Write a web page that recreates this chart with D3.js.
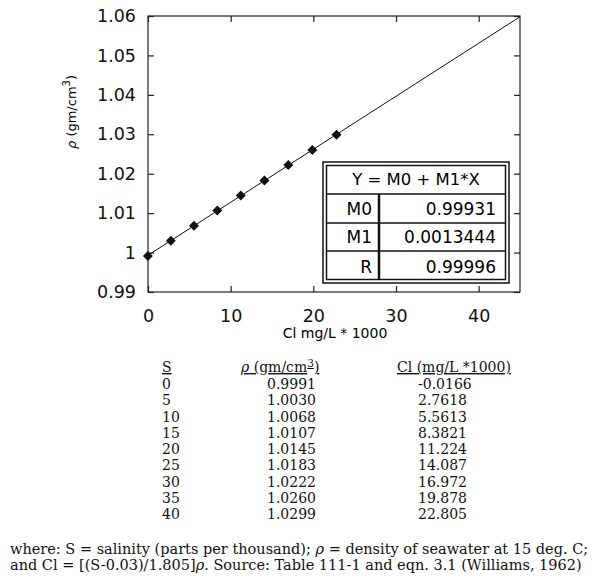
<!DOCTYPE html>
<html>
<head>
<meta charset="utf-8">
<script src="https://cdn.jsdelivr.net/npm/d3@7"></script>
<style>
  body { margin: 0; background: #fff; }
  svg { display: block; }
  .tick-label { font-family: "DejaVu Sans", sans-serif; font-size: 17.5px; fill: #111; }
  .serif { font-family: "DejaVu Serif", serif; fill: #111; }
</style>
</head>
<body>
<svg></svg>
<script>
const width = 600;
const height = 585;
const svg = d3.select("svg").attr("width", width).attr("height", height);

// table values (Williams, 1962)
const salinity = [0, 5, 10, 15, 20, 25, 30, 35, 40];
const density = ["0.9991", "1.0030", "1.0068", "1.0107", "1.0145", "1.0183", "1.0222", "1.0260", "1.0299"];
const chlorinity = ["-0.0166", "2.7618", "5.5613", "8.3821", "11.224", "14.087", "16.972", "19.878", "22.805"];

// regression fit shown in the box
const fitLabels = ["M0", "M1", "R"];
const fitValues = ["0.99931", "0.0013444", "0.99996"];
const m0 = 0.99931, m1 = 0.0013444;

const xTicks = [0, 10, 20, 30, 40];
const yTicks = [0.99, 1, 1.01, 1.02, 1.03, 1.04, 1.05, 1.06];

const x = d3.scaleLinear().domain([0, 45]).range([148, 520]);
const y = d3.scaleLinear().domain([0.99, 1.06]).range([292, 16]);

const plot = svg.append("g");

// frame
plot.append("rect")
    .attr("x", x(0)).attr("y", y(1.06))
    .attr("width", x(45) - x(0)).attr("height", y(0.99) - y(1.06))
    .attr("fill", "none").attr("stroke", "#222").attr("stroke-width", 1.2);

// axes with inward ticks on all four sides
const tickFmt = d => d === 1 ? "1" : d3.format(".2f")(d);
plot.append("g").attr("transform", `translate(0,${y(0.99)})`)
    .call(d3.axisBottom(x).tickValues(xTicks).tickSize(-6).tickPadding(18).tickFormat(d3.format("d")))
    .call(g => g.select(".domain").remove());
plot.append("g").attr("transform", `translate(0,${y(1.06)})`)
    .call(d3.axisTop(x).tickValues(xTicks).tickSize(-6).tickFormat(""))
    .call(g => g.select(".domain").remove());
plot.append("g").attr("transform", `translate(${x(0)},0)`)
    .call(d3.axisLeft(y).tickValues(yTicks).tickSize(-6).tickPadding(12).tickFormat(tickFmt))
    .call(g => g.select(".domain").remove());
plot.append("g").attr("transform", `translate(${x(45)},0)`)
    .call(d3.axisRight(y).tickValues(yTicks).tickSize(-6).tickFormat(""))
    .call(g => g.select(".domain").remove());

plot.selectAll(".tick line").attr("stroke", "#222").attr("stroke-width", 1.2);
plot.selectAll(".tick text").attr("class", "tick-label");

// axis titles
plot.append("text")
    .attr("x", 335).attr("y", 338)
    .attr("text-anchor", "middle")
    .style("font-family", "DejaVu Sans, sans-serif").style("font-size", "14px")
    .text("Cl mg/L * 1000");

const yTitle = plot.append("text")
    .attr("transform", "translate(76,112) rotate(-90)")
    .attr("text-anchor", "middle")
    .style("font-family", "DejaVu Sans, sans-serif").style("font-size", "13px");
yTitle.append("tspan").style("font-style", "italic").text("ρ");
yTitle.append("tspan").text("   (gm/cm");
yTitle.append("tspan").attr("dy", -6).style("font-size", "10px").text("3");
yTitle.append("tspan").attr("dy", 6).text(")");

// fit line
plot.append("line")
    .attr("x1", x(0)).attr("y1", y(m0))
    .attr("x2", x(45)).attr("y2", y(m0 + m1 * 45))
    .attr("stroke", "#111").attr("stroke-width", 1);

// points
const pts = salinity.map((s, i) => ({ cl: +chlorinity[i], rho: +density[i] }));
plot.selectAll("path.pt")
    .data(pts)
    .enter()
    .append("path")
    .attr("class", "pt")
    .attr("d", d3.symbol().type(d3.symbolSquare).size(50))
    .attr("transform", d => `translate(${x(d.cl)},${y(d.rho)}) rotate(45)`)
    .attr("fill", "#111");

// regression box
const box = plot.append("g");
const bx0 = 323, bx1 = 509, by0 = 162, by1 = 283;
const rowY = [194, 223, 251, 283];
const colX = 379;
const boxFont = "17px";
box.append("rect").attr("x", bx0).attr("y", by0).attr("width", bx1 - bx0).attr("height", by1 - by0)
    .attr("fill", "#fff").attr("stroke", "#111").attr("stroke-width", 1.5);
box.append("rect").attr("x", bx0 + 3.5).attr("y", by0 + 3.5).attr("width", bx1 - bx0 - 7).attr("height", by1 - by0 - 7)
    .attr("fill", "none").attr("stroke", "#111").attr("stroke-width", 1.5);
box.selectAll("line.row")
    .data(rowY.slice(0, 3))
    .enter().append("line")
    .attr("x1", bx0 + 3.5).attr("x2", bx1 - 3.5)
    .attr("y1", d => d).attr("y2", d => d)
    .attr("stroke", "#111").attr("stroke-width", 1.5);
box.append("line").attr("x1", colX).attr("x2", colX).attr("y1", rowY[0]).attr("y2", by1 - 3.5)
    .attr("stroke", "#111").attr("stroke-width", 2.5);
box.append("text").attr("x", (bx0 + bx1) / 2).attr("y", 185)
    .attr("text-anchor", "middle")
    .style("font-family", "DejaVu Sans, sans-serif").style("font-size", "16.5px")
    .text("Y = M0 + M1*X");
fitLabels.forEach((lab, i) => {
    const cy = (rowY[i] + rowY[i + 1]) / 2 + 6;
    box.append("text").attr("x", colX - 7).attr("y", cy).attr("text-anchor", "end")
        .style("font-family", "DejaVu Sans, sans-serif").style("font-size", boxFont).text(lab);
    box.append("text").attr("x", bx1 - 13).attr("y", cy).attr("text-anchor", "end")
        .style("font-family", "DejaVu Sans, sans-serif").style("font-size", boxFont).text(fitValues[i]);
});

// data table
const table = svg.append("g").attr("class", "serif").style("font-size", "14px");
const rowStep = 16.25, row0 = 389;
table.append("text").attr("x", 162).attr("y", 372).style("text-decoration", "underline").text("S ");
const h2 = table.append("text").attr("x", 241).attr("y", 372).style("text-decoration", "underline");
h2.append("tspan").style("font-style", "italic").text("ρ");
h2.append("tspan").text(" (gm/cm");
h2.append("tspan").attr("dy", -5).style("font-size", "10.5px").text("3");
h2.append("tspan").attr("dy", 5).text(")");
table.append("text").attr("x", 397).attr("y", 372).style("text-decoration", "underline").text("Cl (mg/L *1000)");

table.selectAll("text.s").data(salinity).enter().append("text")
    .attr("x", 162).attr("y", (d, i) => row0 + i * rowStep).text(d => d);
table.selectAll("text.rho").data(density).enter().append("text")
    .attr("x", 267).attr("y", (d, i) => row0 + i * rowStep).text(d => d);
table.selectAll("text.cl").data(chlorinity).enter().append("text")
    .attr("x", 418).attr("y", (d, i) => row0 + i * rowStep).text(d => d);

// footnote
const foot = svg.append("g").attr("class", "serif").style("font-size", "14.5px");
const f1 = foot.append("text").attr("x", 10).attr("y", 554);
f1.append("tspan").text("where: S = salinity (parts per thousand); ");
f1.append("tspan").style("font-style", "italic").text("ρ");
f1.append("tspan").text(" = density of seawater at 15 deg. C;");
const f2 = foot.append("text").attr("x", 10).attr("y", 570);
f2.append("tspan").text("and Cl = [(S-0.03)/1.805]");
f2.append("tspan").style("font-style", "italic").text("ρ");
f2.append("tspan").text(".  Source: Table 111-1 and eqn. 3.1 (Williams, 1962)");
</script>
</body>
</html>
